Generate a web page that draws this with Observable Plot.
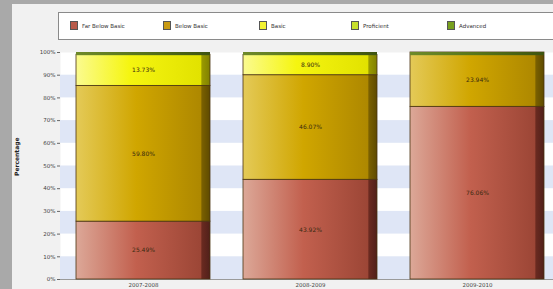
<!DOCTYPE html>
<html>
<head>
<meta charset="utf-8">
<script src="https://cdn.jsdelivr.net/npm/d3@7"></script>
<script src="https://cdn.jsdelivr.net/npm/@observablehq/plot@0.6"></script>
<style>
  html, body { margin: 0; padding: 0; }
  body { width: 553px; height: 289px; background: #a9a9a9; position: relative; overflow: hidden; font-family: "DejaVu Sans", sans-serif; }
  #panel { position: absolute; left: 12px; top: 4px; width: 541px; height: 285px; background: #f1f1f1; }
  #legend { position: absolute; left: 58px; top: 12px; width: 500px; height: 26px; border: 1px solid #8a8a8a; background: #fff; }
  .item { position: absolute; top: 8px; display: flex; align-items: center; font-size: 5.5px; color: #333; }
  .sw { width: 8px; height: 9px; border: 1px solid #555; margin-right: 4px; box-sizing: border-box; }
  #chart { position: absolute; left: 0; top: 0; }
</style>
</head>
<body>
<div id="panel"></div>
<div id="legend"></div>
<div id="chart"></div>
<script>
const years = ["2007-2008", "2008-2009", "2009-2010"];
const levels = ["Far Below Basic", "Below Basic", "Basic", "Proficient", "Advanced"];
const farBelowBasic = [25.49, 43.92, 76.06];
const belowBasic = [59.80, 46.07, 23.94];
const basic = [13.73, 8.90, 0];
const yTicks = [0, 10, 20, 30, 40, 50, 60, 70, 80, 90, 100];
const bandStarts = [0, 20, 40, 60, 80];

const legendColors = ["#b85a4a", "#c89a12", "#f2f232", "#c8e02c", "#78a01e"];
const legendLeft = [11, 104, 200, 292, 388];

const series = [farBelowBasic, belowBasic, basic];
const rows = [];
years.forEach((yr, i) => {
  series.forEach((s, j) => {
    if (s[i] > 0) rows.push({year: yr, level: levels[j], value: s[i]});
  });
});

// legend
const leg = document.getElementById("legend");
levels.forEach((l, i) => {
  const it = document.createElement("div");
  it.className = "item";
  it.style.left = legendLeft[i] + "px";
  it.innerHTML = `<div class="sw" style="background:${legendColors[i]}"></div><span>${l}</span>`;
  leg.appendChild(it);
});

const gradIds = ["g-fbb", "g-bb", "g-b", "g-p", "g-a"];

const plot = Plot.plot({
  width: 553,
  height: 289,
  marginTop: 52,
  marginBottom: 10,
  marginLeft: 60,
  marginRight: 0,
  style: {background: "transparent", fontFamily: "DejaVu Sans, sans-serif"},
  x: {domain: years, range: [41.5, 577.5], padding: 0.2, label: null},
  y: {domain: [0, 100], label: null, line: true},
  color: {domain: levels, range: gradIds.map(g => `url(#${g})`)},
  marks: [
    Plot.frame({fill: "#ffffff", stroke: "none"}),
    Plot.rectY(bandStarts, {y1: d => d, y2: d => d + 10, fill: "#dfe6f6"}),
    Plot.ruleY([0], {stroke: "#9a9a9a"}),
    Plot.axisY({ticks: yTicks, tickFormat: d => d + "%", fontSize: 5.5, tickSize: 3, tickPadding: 2, stroke: "#666", fill: "#444", label: null}),
    Plot.axisX({tickSize: 0, tickPadding: 4, fontSize: 5.5, fill: "#444", label: null}),
    Plot.barY(rows, Plot.stackY({x: "year", y: "value", z: "level", fill: "level", order: levels, stroke: "#4a3210", strokeWidth: 0.8})),
    Plot.barY(years, {x: d => d, y1: 98.6, y2: 100, fill: "url(#g-cap)"}),
    Plot.text(rows, Plot.stackY({x: "year", y: "value", z: "level", order: levels, text: d => d.value.toFixed(2) + "%", fontSize: 6, fill: "#3a2a10"})),
    Plot.text(["Percentage"], {frameAnchor: "left", dx: -43, dy: 10, rotate: -90, text: d => d, fontSize: 6, fontWeight: "bold", fill: "#222"})
  ]
});

// gradients
const defs = `
<defs>
 <linearGradient id="g-fbb" x1="0" x2="1" y1="0" y2="0">
  <stop offset="0" stop-color="#dca898"/><stop offset="0.45" stop-color="#c2604e"/>
  <stop offset="0.93" stop-color="#9c4636"/><stop offset="0.94" stop-color="#6a2a20"/><stop offset="1" stop-color="#50201a"/>
 </linearGradient>
 <linearGradient id="g-bb" x1="0" x2="1" y1="0" y2="0">
  <stop offset="0" stop-color="#e4ca58"/><stop offset="0.45" stop-color="#d0a600"/>
  <stop offset="0.93" stop-color="#ae8800"/><stop offset="0.94" stop-color="#7a6000"/><stop offset="1" stop-color="#5e4a00"/>
 </linearGradient>
 <linearGradient id="g-b" x1="0" x2="1" y1="0" y2="0">
  <stop offset="0" stop-color="#fbfb90"/><stop offset="0.4" stop-color="#f5f510"/>
  <stop offset="0.93" stop-color="#e2e200"/><stop offset="0.94" stop-color="#9a9a00"/><stop offset="1" stop-color="#808000"/>
 </linearGradient>
 <linearGradient id="g-p" x1="0" x2="1" y1="0" y2="0">
  <stop offset="0" stop-color="#e0f080"/><stop offset="1" stop-color="#a0c010"/>
 </linearGradient>
 <linearGradient id="g-a" x1="0" x2="1" y1="0" y2="0">
  <stop offset="0" stop-color="#a0c050"/><stop offset="1" stop-color="#5a8010"/>
 </linearGradient>
 <linearGradient id="g-cap" x1="0" x2="1" y1="0" y2="0">
  <stop offset="0" stop-color="#6e8a2a"/><stop offset="0.5" stop-color="#58741a"/><stop offset="1" stop-color="#3e5410"/>
 </linearGradient>
</defs>`;
plot.insertAdjacentHTML("afterbegin", defs);
document.getElementById("chart").appendChild(plot);
</script>
</body>
</html>
